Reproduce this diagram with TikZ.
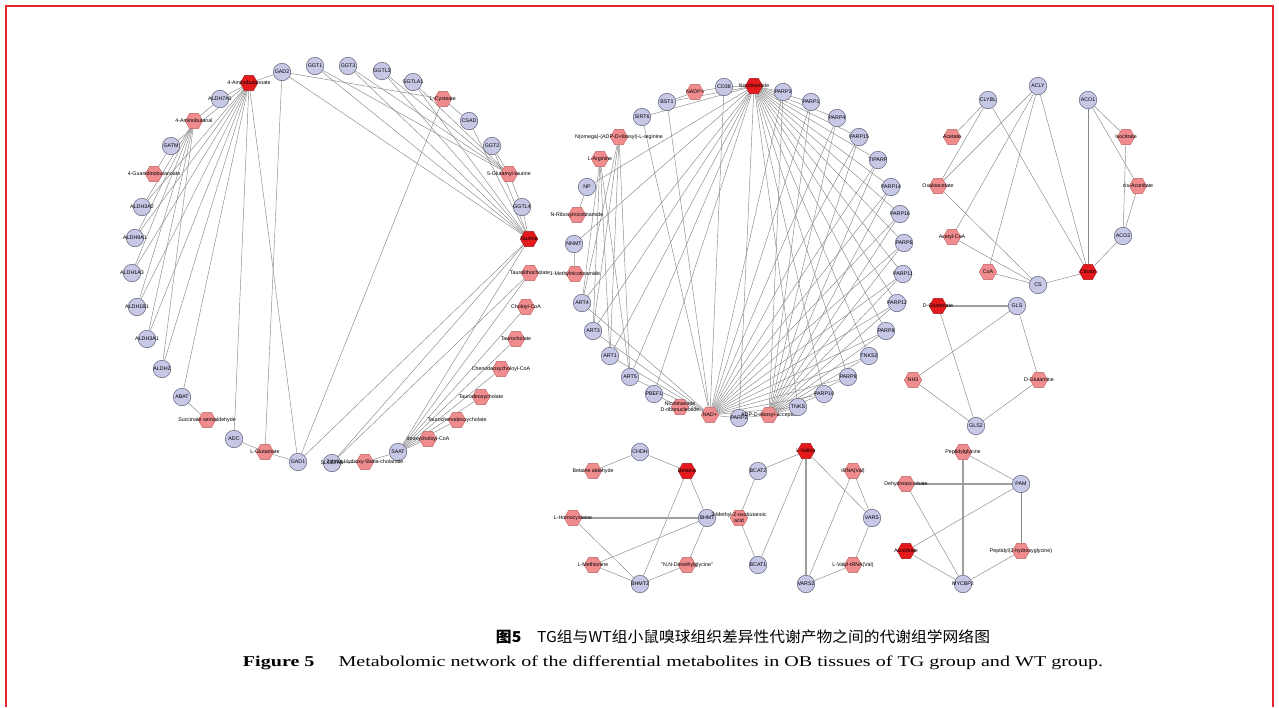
\documentclass[tikz,border=0pt]{standalone}
\usepackage{fontspec}
\usepackage{graphicx}
\setmainfont{Liberation Serif}
\newfontfamily\lblfont{Liberation Sans}
\newfontfamily\cjk{Noto Sans CJK SC}
\usetikzlibrary{shapes.geometric,backgrounds}
\definecolor{enzfill}{RGB}{198,200,230}
\definecolor{enzdraw}{RGB}{95,95,120}
\definecolor{pinkfill}{RGB}{240,140,142}
\definecolor{pinkdraw}{RGB}{190,95,98}
\definecolor{redfill}{RGB}{228,26,28}
\definecolor{reddraw}{RGB}{160,20,20}
\definecolor{edgec}{RGB}{135,135,135}
\definecolor{borderc}{RGB}{226,40,46}
\tikzset{
 lbl/.style={font=\lblfont\fontsize{5.3}{5.9}\selectfont, text=black, inner sep=0pt, align=center},
 enz/.style={circle, draw=enzdraw, fill=enzfill, line width=0.5pt, minimum size=17.5pt, inner sep=0pt, label={[lbl]center:#1}},
 met/.style={regular polygon, regular polygon sides=6, draw=pinkdraw, fill=pinkfill, line width=0.4pt, minimum size=17.5pt, inner sep=0pt, label={[lbl]center:#1}},
 keym/.style={met=#1, draw=reddraw, fill=redfill},
 edge/.style={draw=edgec, line width=0.45pt},
 dbl/.style={draw=edgec!80, line width=1.2pt},
}
\begin{document}
\begin{tikzpicture}[x=1pt,y=-1pt]
\useasboundingbox (0,0) rectangle (1279,707);
\draw[borderc, line width=1.2pt] (6,707) -- (6,6) -- (1273,6) -- (1273,707);

% ---------------- left network ----------------
\node[keym=4-Aminobutanoate] (Ab4) at (249,83) {};
\node[enz=GAD2] (GADb) at (282,72) {};
\node[enz=GGT1] (GGTa) at (315,66) {};
\node[enz=GGT3] (GGTc) at (348,66) {};
\node[enz=GGTL3] (GGTLc) at (382,71) {};
\node[enz=GGTLA1] (GGTLAa) at (413,82) {};
\node[met=L-Cysteate] (Cys) at (443,99) {};
\node[enz=CSAD] (CSAD) at (469,121) {};
\node[enz=GGT2] (GGTb) at (492,146) {};
\node[met=5-Glutamyl-taurine] (Glut5) at (509,174) {};
\node[enz=GGTL4] (GGTLd) at (522,207) {};
\node[keym=Taurine] (Tau) at (529,239) {};
\node[met=Taurolithocholate] (TLC) at (530,273) {};
\node[met=Choloyl-CoA] (CCoA) at (526,307) {};
\node[met=Taurocholate] (TC) at (516,339) {};
\node[met=Chenodeoxycholoyl-CoA] (CDCoA) at (501,369) {};
\node[met=Taurodeoxycholate] (TDC) at (481,397) {};
\node[met=Taurochenodeoxycholate] (TCDC) at (457,420) {};
\node[met=deoxycholoyl-CoA] (DCoA) at (428,439) {};
\node[enz=SAAT] (SAAT) at (398,452) {};
\node[enz=SLC27A5] (SLC) at (332,463) {};
\node[met=3alpha-Hydroxy-5beta-cholanate] (HC) at (365,462) {};
\node[enz=GAD1] (GADa) at (298,462) {};
\node[met=L-Glutamate] (LGlu) at (265,452) {};
\node[enz=ADC] (ADC) at (234,439) {};
\node[met=Succinate semialdehyde] (Succ) at (207,420) {};
\node[enz=ABAT] (ABAT) at (182,397) {};
\node[enz=ALDH2] (ALDHb) at (162,369) {};
\node[enz=ALDH3A1] (ALDHca) at (147,339) {};
\node[enz=ALDH1B1] (ALDHbb) at (137,307) {};
\node[enz=ALDH1A3] (ALDHac) at (132,273) {};
\node[enz=ALDH9A1] (ALDHi) at (135,238) {};
\node[enz=ALDH3A2] (ALDHcb) at (142,207) {};
\node[met=4-Guanidinobutanoate] (Guan) at (154,174) {};
\node[enz=GATM] (GATM) at (171,146) {};
\node[met=4-Aminobutanal] (Abal) at (194,121) {};
\node[enz=ALDH7A1] (ALDHg) at (220,99) {};

% ---------------- middle network ----------------
\node[met=NADP+] (NADP) at (695,92) {};
\node[enz=CD38] (CD38) at (724,87) {};
\node[keym=Nicotinamide] (Nam) at (754,86) {};
\node[enz=BST1] (BST1) at (667,102) {};
\node[enz=SIRT6] (SIRT6) at (642,117) {};
\node[met=N(omega)-(ADP-D-ribosyl)-L-arginine] (Narg) at (619,137) {};
\node[met=L-Arginine] (LArg) at (600,159) {};
\node[enz=NP] (NP) at (587,187) {};
\node[met=N-Ribosylnicotinamide] (NRN) at (577,215) {};
\node[enz=NNMT] (NNMT) at (574,244) {};
\node[met=1-Methylnicotinamide] (MNA) at (575,274) {};
\node[enz=ART4] (ARTd) at (582,303) {};
\node[enz=ART3] (ARTc) at (593,331) {};
\node[enz=ART1] (ARTa) at (610,356) {};
\node[enz=ART5] (ARTe) at (630,377) {};
\node[enz=PBEF1] (PBEF) at (654,394) {};
\node[met={Nicotinamide\\D-ribonucleotide}] (NMN) at (680,407) {};
\node[met=NAD+] (NAD) at (710,415) {};
\node[enz=PARP2] (PARPb) at (739,418) {};
\node[met=ADP-D-ribosyl-acceptor] (ADPR) at (769,415) {};
\node[enz=TNKS] (TNKS) at (798,407) {};
\node[enz=PARP10] (PARPj) at (824,394) {};
\node[enz=PARP9] (PARPi) at (848,377) {};
\node[enz=TNKS2] (TNKSb) at (869,356) {};
\node[enz=PARP8] (PARPh) at (886,331) {};
\node[enz=PARP12] (PARPl) at (897,303) {};
\node[enz=PARP11] (PARPk) at (903,274) {};
\node[enz=PARP6] (PARPf) at (904,243) {};
\node[enz=PARP16] (PARPp) at (900,214) {};
\node[enz=PARP14] (PARPn) at (891,187) {};
\node[enz=TIPARP] (TIPARP) at (878,160) {};
\node[enz=PARP15] (PARPo) at (859,137) {};
\node[enz=PARP4] (PARPd) at (837,118) {};
\node[enz=PARP1] (PARPa) at (811,102) {};
\node[enz=PARP3] (PARPc) at (783,92) {};

% ---------------- citrate network ----------------
\node[enz=ACLY] (ACLY) at (1038,86) {};
\node[enz=CLYBL] (CLYBL) at (988,100) {};
\node[enz=ACO1] (ACO1) at (1088,100) {};
\node[met=Acetate] (Acet) at (952,137) {};
\node[met=Isocitrate] (Iso) at (1126,137) {};
\node[met=Oxaloacetate] (Oxa) at (938,186) {};
\node[met=cis-Aconitate] (cisA) at (1138,186) {};
\node[met=Acetyl-CoA] (AcCoA) at (952,237) {};
\node[enz=ACO2] (ACO2) at (1123,236) {};
\node[met=CoA] (CoA) at (988,272) {};
\node[enz=CS] (CS) at (1038,285) {};
\node[keym=Citrate] (Cit) at (1088,272) {};

% ---------------- glutamate network ----------------
\node[keym=D-Glutamate] (DGlu) at (938,306) {};
\node[enz=GLS] (GLS) at (1017,306) {};
\node[met=NH3] (NH3) at (913,380) {};
\node[met=D-Glutamine] (DGln) at (1039,380) {};
\node[enz=GLS2] (GLS2) at (976,426) {};

% ---------------- betaine network ----------------
\node[enz=CHDH] (CHDH) at (640,452) {};
\node[met=Betaine aldehyde] (BetA) at (593,471) {};
\node[keym=Betaine] (Bet) at (687,471) {};
\node[met=L-Homocysteine] (Hcy) at (573,518) {};
\node[enz=BHMT] (BHMT) at (707,518) {};
\node[met=L-Methionine] (Met) at (593,565) {};
\node[met={"N,N-Dimethylglycine"}] (DMG) at (687,565) {};
\node[enz=BHMT2] (BHMTb) at (640,584) {};

% ---------------- valine network ----------------
\node[met={3-Methyl-2-oxobutanoic\\acid}] (MOB) at (739,518) {};
\node[enz=BCAT2] (BCATb) at (758,471) {};
\node[enz=BCAT1] (BCATa) at (758,565) {};
\node[keym=L-Valine] (Val) at (806,451) {};
\node[enz=VARS2] (VARSb) at (806,584) {};
\node[met=tRNA(Val)] (tRNA) at (853,471) {};
\node[enz=VARS] (VARS) at (872,518) {};
\node[met=L-Valyl-tRNA(Val)] (VtRNA) at (853,565) {};

% ---------------- ascorbate network ----------------
\node[met=Peptidylglycine] (Pgly) at (963,452) {};
\node[met=Dehydroascorbate] (DHA) at (906,484) {};
\node[enz=PAM] (PAM) at (1021,484) {};
\node[keym=Ascorbate] (Asc) at (906,551) {};
\node[met=Peptidyl(2-hydroxyglycine)] (Phg) at (1021,551) {};
\node[enz=MYCBP2] (MYC) at (963,584) {};

% ---------------- captions ----------------
\node[inner sep=0pt] (cap1) at (743,637) {\resizebox{494pt}{\height}{\cjk\fontsize{15}{15}\selectfont{\bfseries 图5}\hspace{1em}TG组与WT组小鼠嗅球组织差异性代谢产物之间的代谢组学网络图}};
\node[inner sep=0pt] (cap2) at (673,663) {\resizebox{860pt}{\height}{\fontsize{15}{15}\selectfont\textbf{Figure 5}\hspace{1.2em}Metabolomic network of the differential metabolites in OB tissues of TG group and WT group.}};

% ---------------- edges ----------------
\begin{pgfonlayer}{background}
\foreach \t in {ALDHg,GATM,ALDHcb,ALDHi,ALDHac,ALDHbb,ALDHca,ALDHb,ABAT,ADC,GADa,GADb}
  \draw[edge] (Ab4) -- (\t);
\foreach \t in {ALDHg,ALDHcb,ALDHi,ALDHac,ALDHbb,ALDHca,ALDHb}
  \draw[edge] (Abal) -- (\t);
\draw[edge] (Guan) -- (GATM);
\draw[edge] (ABAT) -- (Succ);
\foreach \t in {ADC,GADa,GADb} \draw[edge] (LGlu) -- (\t);
\foreach \t in {GADb,CSAD,GADa} \draw[edge] (Cys) -- (\t);
\foreach \t in {GADb,GGTa,GGTc,GGTLc,GGTLAa,CSAD,GGTb,GGTLd,GADa,SLC,SAAT}
  \draw[edge] (Tau) -- (\t);
\foreach \t in {GGTa,GGTc,GGTLc,GGTLAa,GGTb,GGTLd}
  \draw[edge] (Glut5) -- (\t);
\foreach \t in {TLC,CCoA,TC,CDCoA,TDC,TCDC,DCoA,HC}
  \draw[edge] (SAAT) -- (\t);
\draw[edge] (SLC) -- (TLC);
\draw[edge] (SLC) -- (HC);

\foreach \t in {CD38,BST1,SIRT6,NP,NNMT,PBEF,ARTd,ARTc,ARTa,ARTe,PARPc,PARPa,PARPd,PARPo,TIPARP,PARPn,PARPp,PARPf,PARPk,PARPl,PARPh,TNKSb,PARPi,PARPj,TNKS,PARPb}
  \draw[edge] (Nam) -- (\t);
\foreach \t in {CD38,BST1,SIRT6,ARTd,ARTc,ARTa,ARTe,PARPc,PARPa,PARPd,PARPo,TIPARP,PARPn,PARPp,PARPf,PARPk,PARPl,PARPh,TNKSb,PARPi,PARPj,TNKS,PARPb}
  \draw[edge] (NAD) -- (\t);
\foreach \t in {PARPc,PARPa,PARPd,PARPo,TIPARP,PARPn,PARPp,PARPf,PARPk,PARPl,PARPh,TNKSb,PARPi,PARPj,TNKS,PARPb}
  \draw[edge] (ADPR) -- (\t);
\foreach \t in {ARTd,ARTc,ARTa,ARTe} {\draw[edge] (Narg) -- (\t); \draw[edge] (LArg) -- (\t);}
\draw[edge] (NADP) -- (CD38);
\draw[edge] (NADP) -- (BST1);
\draw[edge] (NRN) -- (NP);
\draw[edge] (MNA) -- (NNMT);
\draw[edge] (NMN) -- (PBEF);

\foreach \t in {Acet,Oxa,Cit} \draw[edge] (CLYBL) -- (\t);
\foreach \t in {Oxa,AcCoA,CoA,Cit} \draw[edge] (ACLY) -- (\t);
\foreach \t in {Iso,cisA,Cit} \draw[edge] (ACO1) -- (\t);
\foreach \t in {Iso,cisA,Cit} \draw[edge] (ACO2) -- (\t);
\foreach \t in {Oxa,AcCoA,CoA,Cit} \draw[edge] (CS) -- (\t);

\draw[dbl] (DGlu) -- (GLS);
\draw[edge] (DGlu) -- (GLS2);
\draw[edge] (GLS) -- (NH3);
\draw[edge] (GLS) -- (DGln);
\draw[edge] (NH3) -- (GLS2);
\draw[edge] (DGln) -- (GLS2);

\draw[edge] (CHDH) -- (BetA);
\draw[edge] (CHDH) -- (Bet);
\draw[edge] (Bet) -- (BHMT);
\draw[edge] (Bet) -- (BHMTb);
\draw[dbl] (Hcy) -- (BHMT);
\draw[edge] (Met) -- (BHMT);
\draw[edge] (DMG) -- (BHMT);
\draw[edge] (Hcy) -- (BHMTb);
\draw[edge] (Met) -- (BHMTb);
\draw[edge] (DMG) -- (BHMTb);

\draw[edge] (BCATb) -- (Val);
\draw[edge] (BCATb) -- (MOB);
\draw[edge] (BCATa) -- (MOB);
\draw[edge] (BCATa) -- (Val);
\draw[dbl] (Val) -- (VARSb);
\draw[edge] (Val) -- (VARS);
\draw[edge] (tRNA) -- (VARSb);
\draw[edge] (tRNA) -- (VARS);
\draw[edge] (VtRNA) -- (VARSb);
\draw[edge] (VtRNA) -- (VARS);

\draw[edge] (Pgly) -- (PAM);
\draw[dbl] (Pgly) -- (MYC);
\draw[dbl] (DHA) -- (PAM);
\draw[edge] (DHA) -- (MYC);
\draw[edge] (PAM) -- (Asc);
\draw[edge] (PAM) -- (Phg);
\draw[edge] (Asc) -- (MYC);
\draw[edge] (Phg) -- (MYC);
\end{pgfonlayer}
\end{tikzpicture}
\end{document}
